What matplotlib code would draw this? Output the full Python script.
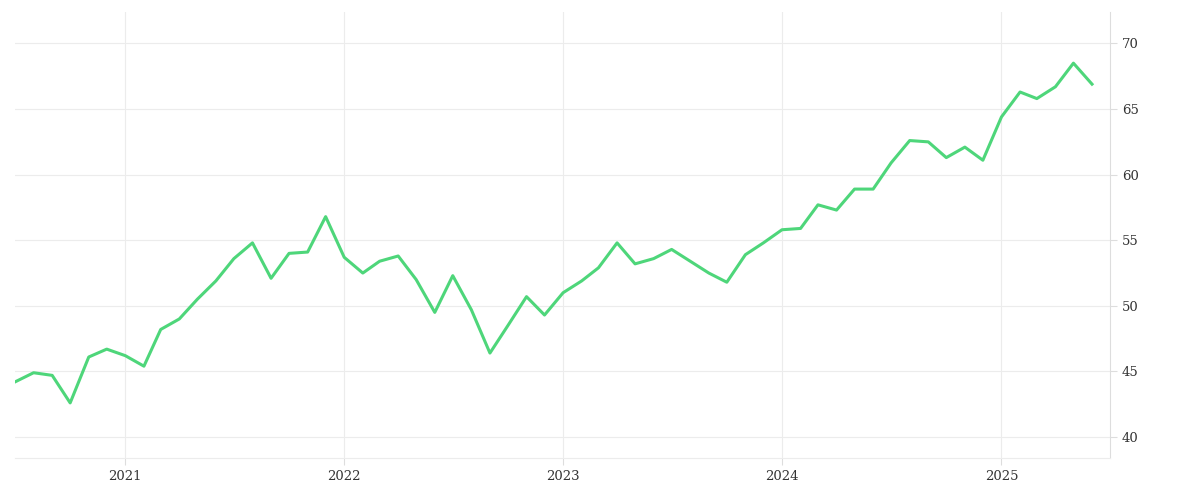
import matplotlib
matplotlib.use("Agg")
import matplotlib.pyplot as plt
import matplotlib.dates as mdates
import numpy as np

# Monthly series, Jul 2020 .. Jun 2025
dates = np.arange(np.datetime64("2020-07"), np.datetime64("2025-07"),
                  np.timedelta64(1, "M")).astype("datetime64[D]")
values = [
    44.2, 44.9, 44.7, 42.6, 46.1, 46.7, 46.2, 45.4, 48.2, 49.0, 50.5, 51.9,
    53.6, 54.8, 52.1, 54.0, 54.1, 56.8, 53.7, 52.5, 53.4, 53.8, 52.0, 49.5,
    52.3, 49.7, 46.4, 48.5, 50.7, 49.3, 51.0, 51.9, 52.9, 54.8, 53.2, 53.6,
    54.3, 53.4, 52.5, 51.8, 53.9, 54.8, 55.8, 55.9, 57.7, 57.3, 58.9, 58.9,
    60.9, 62.6, 62.5, 61.3, 62.1, 61.1, 64.4, 66.3, 65.8, 66.7, 68.5, 66.9,
]
y_ticks = [40, 45, 50, 55, 60, 65, 70]

fig = plt.figure(figsize=(12, 5), dpi=100)
ax = fig.add_axes([0.0125, 0.084, 0.9125, 0.892])

ax.plot(dates, values, color="#4ed67a", linewidth=2.2)

ax.set_xlim(np.datetime64("2020-07-01"), np.datetime64("2025-07-01"))
ax.set_ylim(38.4, 72.4)
ax.set_yticks(y_ticks)
ax.yaxis.tick_right()
ax.xaxis.set_major_locator(mdates.YearLocator())
ax.xaxis.set_major_formatter(mdates.DateFormatter("%Y"))

ax.grid(True, color="#ececec", linewidth=0.8)
for s in ["top", "left"]:
    ax.spines[s].set_visible(False)
ax.spines["right"].set_color("#dddddd")
ax.spines["bottom"].set_color("#ececec")
ax.tick_params(axis="both", colors="#dddddd", labelcolor="#333333",
               labelsize=9.5, length=5)
for lab in ax.get_xticklabels() + ax.get_yticklabels():
    lab.set_family("DejaVu Serif")

fig.savefig("out.png", dpi=100)
